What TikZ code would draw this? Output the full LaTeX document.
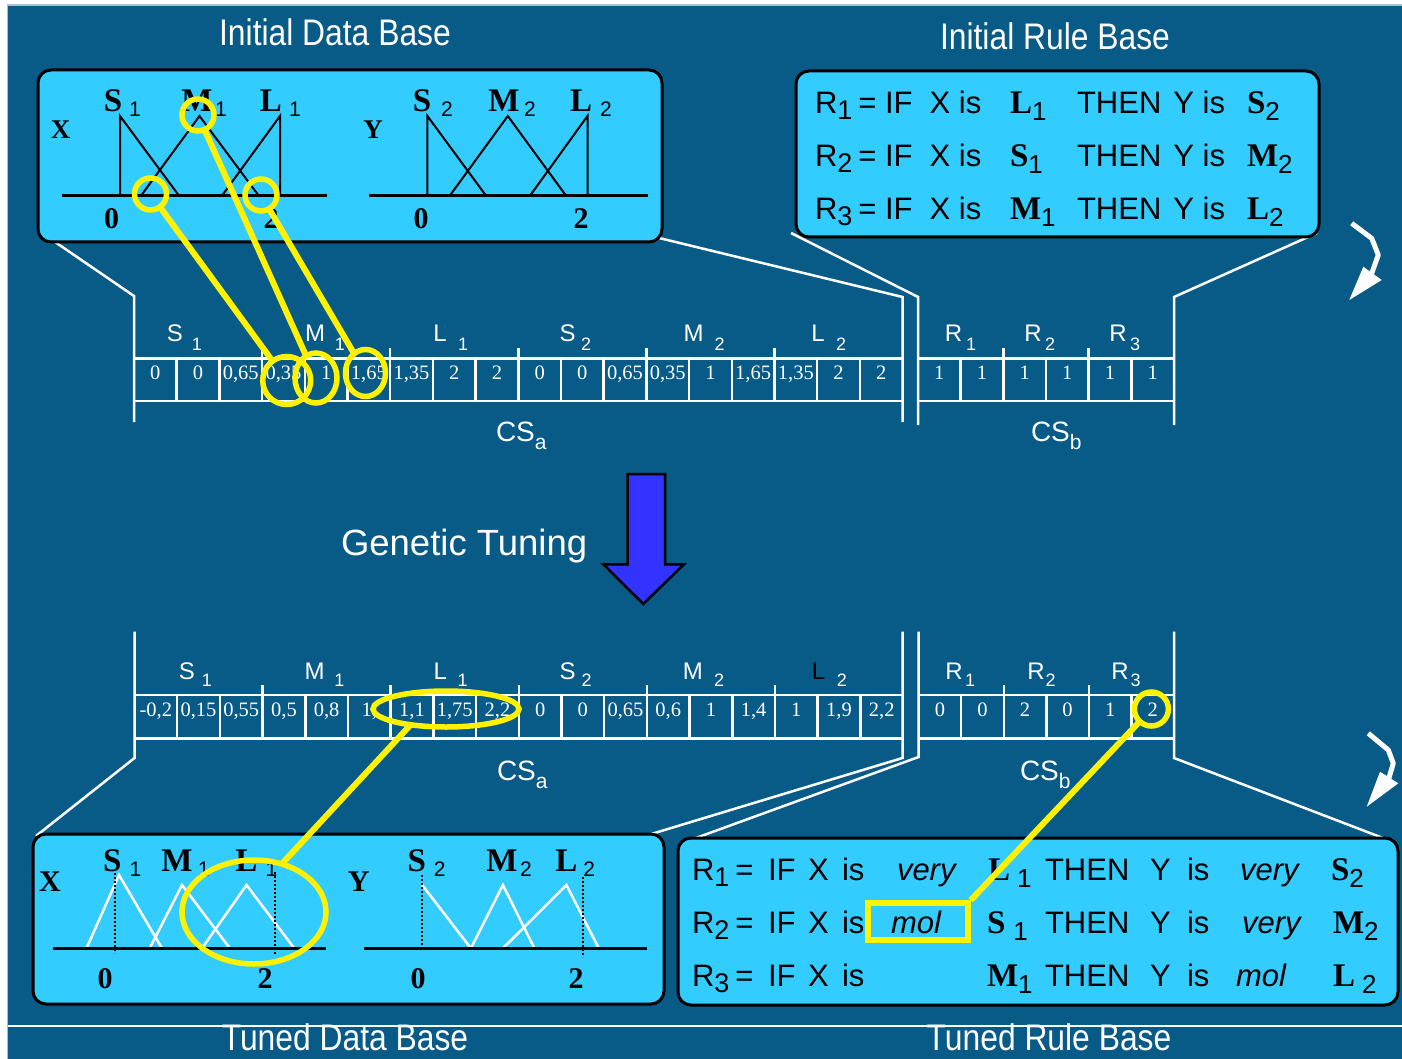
\documentclass[tikz,border=0pt]{standalone}
\usepackage{fontspec}
\setmainfont{Liberation Sans}
\newfontfamily\tms{Liberation Serif}
\newfontfamily\narrowf[FakeStretch=0.86]{Liberation Sans}
\usetikzlibrary{shapes.geometric}
\definecolor{bgblue}{RGB}{8,90,135}
\definecolor{cyanbox}{RGB}{51,204,255}
\definecolor{arrowblue}{RGB}{51,51,255}
\definecolor{frameg}{RGB}{170,190,215}
\newcommand\fsz[1]{\fontsize{#1}{#1}\selectfont}
\newcommand\bl[1]{{\tms\bfseries\fsz{33}#1}}
\newcommand\sbs[1]{\raisebox{-7pt}{\fsz{26}#1}}
\newcommand\rsb[1]{\raisebox{-6pt}{\fsz{27}#1}}
\tikzset{
  lbl/.style={inner sep=0pt, outer sep=0pt, anchor=base},
  lblw/.style={inner sep=0pt, outer sep=0pt, anchor=base west},
  boxshape/.style={draw=black, line width=3pt, fill=cyanbox, rounded corners=13pt, inner sep=0pt},
  conn/.style={draw=white, line width=2.5pt},
  cellline/.style={draw=white, line width=2.5pt},
  celltxt/.style={lbl, text=white, font=\tms\fsz{20.5}},
  chlab/.style={lbl, text=white, font=\fsz{24}},
  chsub/.style={lbl, text=white, font=\fsz{18}},
  cslab/.style={lblw, text=white, font=\fsz{28}},
  ylw/.style={draw=yellow, line width=6pt},
  ycirc/.style={ellipse, draw=yellow, line width=5.5pt, inner sep=0pt, outer sep=0pt},
  mfblack/.style={draw=black, line width=2pt},
  mfwhite/.style={draw=white, line width=2.5pt},
  axisline/.style={draw=black, line width=3pt},
  dotv/.style={draw=black, line width=2pt, dotted},
  titletxt/.style={lbl, text=white, font=\narrowf\fsz{37}},
  ruletxt/.style={lblw, text=black, font=\fsz{31}},
  mflet/.style={lbl, text=black, font=\tms\bfseries\fsz{33}},
  mfsub/.style={lbl, text=black, font=\fsz{21}},
  axlab/.style={lbl, text=black, font=\tms\bfseries\fsz{30}},
}
\begin{document}
\begin{tikzpicture}[x=1pt,y=-1pt]
\useasboundingbox (0,0) rectangle (1402,1059);
\fill[white] (0,0) rectangle (1402,1059);
\fill[bgblue] (8,6) rectangle (1402,1059);
\draw[frameg, line width=1.5pt] (7.25,1059) -- (7.25,5.25) -- (1402,5.25);
\draw[white, line width=1.5pt] (8,1026) -- (1402,1026);

%% ---------- connector coordinates
\coordinate (dbAsw) at (39,231);
\coordinate (dbAse) at (659,238);
\coordinate (rbAsw) at (791,233);
\coordinate (rbAse) at (1317,233);
\coordinate (a1tl) at (134,296);   \coordinate (a1bl) at (134,422);
\coordinate (a1tr) at (902.5,297); \coordinate (a1br) at (902.5,422);
\coordinate (b1tl) at (918,297);   \coordinate (b1bl) at (918,425);
\coordinate (b1tr) at (1174,297);  \coordinate (b1br) at (1174,425);
\coordinate (a2tl) at (134.5,631.7); \coordinate (a2bl) at (134.5,758);
\coordinate (a2tr) at (902.5,631.7); \coordinate (a2br) at (902.5,758);
\coordinate (b2tl) at (918.6,631.7); \coordinate (b2bl) at (918.6,757);
\coordinate (b2tr) at (1174,631.7);  \coordinate (b2br) at (1174,758);
\coordinate (dbBnw) at (36,836);
\coordinate (dbBne) at (648,835);
\coordinate (rbBnw) at (693,839);
\coordinate (rbBne) at (1383,838);

\draw[conn] (dbAsw) -- (a1tl) -- (a1bl);
\draw[conn] (dbAse) -- (a1tr) -- (a1br);
\draw[conn] (rbAsw) -- (b1tl) -- (b1bl);
\draw[conn] (rbAse) -- (b1tr) -- (b1br);
\draw[conn] (a2tl) -- (a2bl) -- (dbBnw);
\draw[conn] (a2tr) -- (a2br) -- (dbBne);
\draw[conn] (b2tl) -- (b2bl) -- (rbBnw);
\draw[conn] (b2tr) -- (b2br) -- (rbBne);

%% ---------- top boxes
\node[boxshape, minimum width=624pt, minimum height=172pt] (dbA) at (350,156) {};
\node[boxshape, minimum width=523pt, minimum height=166pt] (rbA) at (1057.5,154) {};

% Initial data base content
\node[axlab, font=\tms\bfseries\fsz{27}] (xA) at (60.6,139) {X};
\node[axlab, font=\tms\bfseries\fsz{27}] (yA) at (373,139) {Y};
\draw[axisline] (62,195.7) -- (327,195.7);
\draw[axisline] (369,195.7) -- (647.5,195.7);
\draw[mfblack] (120,195.7) -- (120,116) -- (179,195.7);
\draw[mfblack] (141,195.7) -- (199.5,116) -- (258.7,195.7);
\draw[mfblack] (222,195.7) -- (280,116) -- (280,195.7);
\draw[mfblack] (427.4,195.7) -- (427.4,116) -- (486,195.7);
\draw[mfblack] (449.8,195.7) -- (507.8,116) -- (566,195.7);
\draw[mfblack] (530,195.7) -- (587.5,116) -- (587.5,195.7);
\foreach \lx/\sx/\L/\s in {113/135/S/1, 197/221/M/1, 271/295/L/1, 422/447/S/2, 504/530/M/2, 581/606/L/2}{
  \node[mflet] at (\lx,112) {\L};
  \node[mfsub] at (\sx,117) {\s};
}
\node[axlab] at (111.7,228.4) {0};
\node[axlab] at (271,228.4) {2};
\node[axlab] at (421,228.4) {0};
\node[axlab] at (581,228.4) {2};

% Initial rule base content
\foreach \yb/\i/\la/\lb/\ra/\rb in {113.3/1/L/1/S/2, 166.7/2/S/1/M/2, 219.3/3/M/1/L/2}{
  \node[ruletxt] at (815,\yb) {R\rsb{\i}\hspace{6pt}= IF\hspace{17pt}X is};
  \node[lblw] at (1010,\yb) {\bl{\la}\sbs{\lb}};
  \node[ruletxt] at (1077,\yb) {THEN\hspace{12pt}Y is};
  \node[lblw] at (1247,\yb) {\bl{\ra}\sbs{\rb}};
}

%% ---------- top chromosome
\draw[cellline] (134,358.3) -- (902.5,358.3) (134,401) -- (902.5,401);
\foreach \i in {1,...,17} \draw[cellline] ({134+42.7*\i},358.3) -- ({134+42.7*\i},401);
\foreach \i in {3,6,9,12,15} \draw[cellline] ({134+42.7*\i},348) -- ({134+42.7*\i},358.3);
\draw[cellline] (918,358.3) -- (1174,358.3) (918,401) -- (1174,401);
\foreach \i in {1,...,5} \draw[cellline] ({918+42.67*\i},358.3) -- ({918+42.67*\i},401);
\foreach \i in {2,4} \draw[cellline] ({918+42.67*\i},348) -- ({918+42.67*\i},358.3);
\foreach \v [count=\i from 0] in {0,0,{0,65},{0,35},1,{1,65},{1,35},2,2,0,0,{0,65},{0,35},1,{1,65},{1,35},2,2}
  \node[celltxt] at ({134+42.7*(\i+0.5)},379.3) {\v};
\foreach \v [count=\i from 0] in {1,1,1,1,1,1}
  \node[celltxt] at ({918+42.67*(\i+0.5)},379.3) {\v};
\foreach \lx/\sx/\L/\s in {175/197/S/1, 315/340/M/1, 440/463/L/1, 567.7/586/S/2, 693.5/719.5/M/2, 818/841/L/2, 953.6/971/R/1, 1033/1050/R/2, 1118/1135/R/3}{
  \node[chlab] at (\lx,341.7) {\L};
  \node[chsub] at (\sx,350) {\s};
}
\node[cslab] (csa1) at (496,441.7) {CS\raisebox{-8pt}{\fsz{21}a}};
\node[cslab] (csb1) at (1031,441.7) {CS\raisebox{-8pt}{\fsz{21}b}};

%% ---------- top yellow marks
\node[ycirc, minimum width=32pt, minimum height=32pt] (yc1) at (198,115) {};
\node[ycirc, minimum width=32pt, minimum height=32pt] (yc2) at (150.5,194) {};
\node[ycirc, minimum width=32pt, minimum height=32pt] (yc3) at (261,195) {};
\node[ycirc, minimum width=48pt, minimum height=48pt] (ca1) at (286.7,380.5) {};
\node[ycirc, minimum width=42pt, minimum height=50pt] (ca2) at (316,378) {};
\node[ycirc, minimum width=40pt, minimum height=47pt] (ca3) at (365.5,373) {};
\draw[ylw] (yc2) -- (ca1);
\draw[ylw] (yc1) -- (ca2);
\draw[ylw] (yc3) -- (ca3);

%% ---------- genetic tuning
\node[lblw, text=white, font=\fsz{36.5}] (gt) at (341,555) {Genetic Tuning};
\draw[fill=arrowblue, draw=black, line width=2.5pt, line join=miter]
  (627.7,474) -- (665,474) -- (665,564.3) -- (684,564.3) -- (643.3,604) -- (603.3,564.3) -- (627.7,564.3) -- cycle;

%% ---------- bottom chromosome
\draw[cellline] (134.5,695) -- (902.5,695) (134.5,738.3) -- (902.5,738.3);
\foreach \i in {1,...,17} \draw[cellline] ({134.5+42.7*\i},695) -- ({134.5+42.7*\i},738.3);
\foreach \i in {3,6,9,12,15} \draw[cellline] ({134.5+42.7*\i},685) -- ({134.5+42.7*\i},695);
\draw[cellline] (918.6,695) -- (1174,695) (918.6,738.3) -- (1174,738.3);
\foreach \i in {1,...,5} \draw[cellline] ({918.6+42.57*\i},695) -- ({918.6+42.57*\i},738.3);
\foreach \i in {2,4} \draw[cellline] ({918.6+42.57*\i},685) -- ({918.6+42.57*\i},695);
\foreach \v [count=\i from 0] in {{-0,2},{0,15},{0,55},{0,5},{0,8},{1,},{1,1},{1,75},{2,2},0,0,{0,65},{0,6},1,{1,4},1,{1,9},{2,2}}
  \node[celltxt] at ({134.5+42.7*(\i+0.5)},716.7) {\v};
\foreach \v [count=\i from 0] in {0,0,2,0,1,2}
  \node[celltxt] at ({918.6+42.57*(\i+0.5)},716.7) {\v};
\foreach \lx/\sx/\L/\s in {187/206.8/S/1, 314.6/339.4/M/1, 440.2/462.6/L/1, 567.7/586.6/S/2, 692.9/719/M/2, 954/970/R/1, 1036/1050.7/R/2, 1120/1135.7/R/3}{
  \node[chlab] at (\lx,679.3) {\L};
  \node[chsub] at (\sx,686.7) {\s};
}
\node[chlab, text=black] at (818.6,679.3) {L};
\node[chsub] at (841.8,686.7) {2};
\node[cslab] (csa2) at (497,780) {CS\raisebox{-8pt}{\fsz{21}a}};
\node[cslab] (csb2) at (1020,780) {CS\raisebox{-8pt}{\fsz{21}b}};

%% ---------- bottom boxes
\node[boxshape, minimum width=631pt, minimum height=170pt] (dbB) at (348.5,919) {};
\node[boxshape, minimum width=720pt, minimum height=167pt] (rbB) at (1038,921.5) {};

% tuned data base content
\node[axlab] (xB) at (50,891.7) {X};
\node[axlab] (yB) at (358.7,891.7) {Y};
\draw[mfwhite] (86.5,948.3) -- (119,875) -- (162,948.3);
\draw[mfwhite] (149.7,948.3) -- (182,885) -- (229.9,948.3);
\draw[mfwhite] (202,948.3) -- (246.5,885) -- (294.3,948.3);
\draw[mfwhite] (422.2,885) -- (470.9,948.3);
\draw[mfwhite] (470.9,948.3) -- (502.9,885) -- (534.4,948.3);
\draw[mfwhite] (502.9,948.3) -- (566.4,885) -- (598.8,948.3);
\draw[axisline] (53.3,948.3) -- (326,948.3);
\draw[axisline] (364,948.3) -- (647.4,948.3);
\draw[dotv] (114.8,873) -- (114.8,953);
\draw[dotv] (275.2,872) -- (275.2,955);
\draw[dotv] (422.2,875) -- (422.2,948.3);
\draw[dotv] (583,876.7) -- (583,956.7);
\foreach \lx/\sx/\L/\s in {112.3/135.5/S/1, 177/203.7/M/1, 246.5/271.4/L/1, 416.8/439.7/S/2, 502/526/M/2, 566.4/589.3/L/2}{
  \node[mflet] at (\lx,871.7) {\L};
  \node[mfsub] at (\sx,876) {\s};
}
\node[axlab] at (105.2,988.3) {0};
\node[axlab] at (265.2,988.3) {2};
\node[axlab] at (418,988.3) {0};
\node[axlab] at (576,988.3) {2};

% tuned rule base content
\foreach \yb/\i in {880/1, 933.3/2, 986.7/3}{
  \node[ruletxt] at (692,\yb) {R\rsb{\i}\hspace{6pt}=};
  \node[ruletxt] at (768,\yb) {IF};
  \node[ruletxt] at (808,\yb) {X};
  \node[ruletxt] at (842,\yb) {is};
  \node[ruletxt] at (1045,\yb) {THEN};
  \node[ruletxt] at (1150,\yb) {Y};
  \node[ruletxt] at (1187,\yb) {is};
}
\node[ruletxt, font=\itshape\fsz{31}] at (897,880) {very};
\node[ruletxt, font=\itshape\fsz{31}] at (891,933.3) {mol};
\node[ruletxt, font=\itshape\fsz{31}] at (1240,880) {very};
\node[ruletxt, font=\itshape\fsz{31}] at (1242,933.3) {very};
\node[ruletxt, font=\itshape\fsz{31}] at (1236,986.7) {mol};
\node[lblw] at (988,880) {\bl{L}\hspace{7pt}\sbs{1}};
\node[lblw] at (987,933.3) {\bl{S}\hspace{8pt}\sbs{1}};
\node[lblw] at (987,986.7) {\bl{M}\sbs{1}};
\node[lblw] at (1331,880) {\bl{S}\sbs{2}};
\node[lblw] at (1333,933.3) {\bl{M}\sbs{2}};
\node[lblw] at (1333,986.7) {\bl{L}\hspace{7pt}\sbs{2}};

%% ---------- bottom yellow marks
\node[ycirc, minimum width=144pt, minimum height=104pt] (bigell) at (254,912) {};
\node[ycirc, minimum width=146pt, minimum height=36pt] (chell) at (446,709) {};
\draw[ylw] (bigell.60) -- (chell.204);
\node[draw=yellow, line width=5.5pt, rectangle, inner sep=0pt, minimum width=100pt, minimum height=37pt] (molbox) at (918,921.5) {};
\node[ycirc, minimum width=34pt, minimum height=34pt] (cbc) at (1151.4,709) {};
\draw[ylw] (molbox.north east) -- (cbc);

%% ---------- side arrows
\draw[white, line width=5pt, line join=round] (1351.7,223.3) -- (1371.7,238.3) -- (1378.3,255) -- (1371.7,273.3);
\fill[white] (1363.3,266.7) -- (1381.7,280) -- (1349.3,300) -- cycle;
\draw[white, line width=5pt, line join=round] (1368.3,733.3) -- (1388.3,750) -- (1393.3,763.3) -- (1388.3,780);
\fill[white] (1380,771.7) -- (1398.3,783.3) -- (1366.7,806.7) -- cycle;

%% ---------- titles
\node[titletxt] (t1) at (335,46) {Initial Data Base};
\node[titletxt] (t2) at (1055,50) {Initial Rule Base};
\node[titletxt] (t3) at (345,1050) {Tuned Data Base};
\node[titletxt] (t4) at (1049,1050) {Tuned Rule Base};
\end{tikzpicture}
\end{document}
